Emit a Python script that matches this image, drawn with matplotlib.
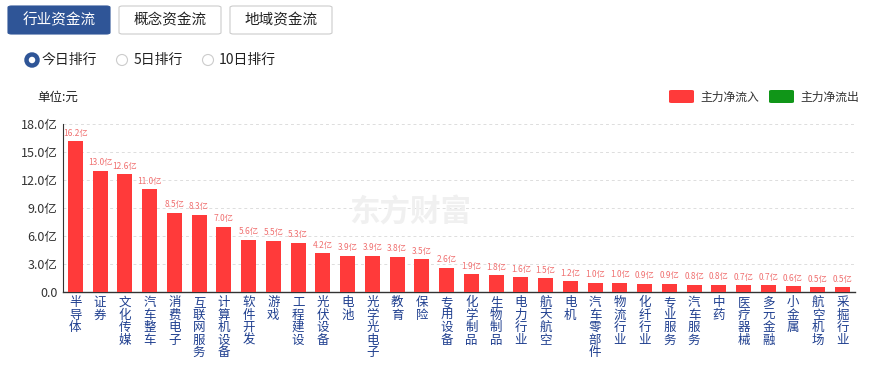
import matplotlib
matplotlib.use("Agg")
import matplotlib.pyplot as plt
from matplotlib.patches import FancyBboxPatch, Circle, Rectangle
import numpy as np

plt.rcParams['font.family'] = ['Noto Sans CJK SC', 'DejaVu Sans']

categories = ["半导体", "证券", "文化传媒", "汽车整车", "消费电子", "互联网服务", "计算机设备",
              "软件开发", "游戏", "工程建设", "光伏设备", "电池", "光学光电子", "教育", "保险",
              "专用设备", "化学制品", "生物制品", "电力行业", "航天航空", "电机", "汽车零部件",
              "物流行业", "化纤行业", "专业服务", "汽车服务", "中药", "医疗器械", "多元金融",
              "小金属", "航空机场", "采掘行业"]
values = [16.2, 13.0, 12.6, 11.0, 8.5, 8.3, 7.0, 5.6, 5.5, 5.3, 4.2, 3.9, 3.9, 3.8, 3.5,
          2.6, 1.9, 1.8, 1.6, 1.5, 1.2, 1.0, 1.0, 0.9, 0.9, 0.8, 0.8, 0.7, 0.7, 0.6, 0.5, 0.5]
yticks = [0, 3, 6, 9, 12, 15, 18]
ytick_labels = ["0.0", "3.0亿", "6.0亿", "9.0亿", "12.0亿", "15.0亿", "18.0亿"]

W, H = 887, 367
fig = plt.figure(figsize=(W / 100, H / 100), dpi=100)

def fx(px):
    return px / W

def fy(py):
    return 1 - py / H

ax = fig.add_axes([fx(63), fy(292), fx(855) - fx(63), fy(124) - fy(292)])
x = np.arange(len(categories))
ax.bar(x, values, width=0.6, color="#ff3a3a", zorder=3)
for xi, v in zip(x, values):
    ax.text(xi, v + 0.35, f"{v:.1f}亿", ha="center", va="bottom", fontsize=6,
            color="#f07070", zorder=4)
ax.set_xlim(-0.5, len(categories) - 0.5)
ax.set_ylim(0, 18)
ax.set_yticks(yticks)
ax.set_yticklabels(ytick_labels, fontsize=9, color="#333333")
ax.set_xticks(x)
ax.set_xticklabels(["\n".join(c) for c in categories], fontsize=9, color="#1f3f8f",
                   linespacing=0.95, va="top")
ax.tick_params(axis="both", length=0)
ax.tick_params(axis="x", pad=3)
ax.tick_params(axis="y", pad=4)
for s in ["top", "right"]:
    ax.spines[s].set_visible(False)
ax.spines["left"].set_color("#333333")
ax.spines["bottom"].set_color("#333333")
ax.spines["left"].set_linewidth(0.8)
ax.spines["bottom"].set_linewidth(1.0)
for t in yticks[1:]:
    ax.axhline(t, color="#dddddd", linestyle=(0, (3, 3)), linewidth=0.7, zorder=1)

# watermark
fig.text(fx(410), fy(212), "东方财富", fontsize=22, color="#f0f0f0", ha="center",
         va="center", fontweight="bold", zorder=0)

# top buttons
def button(x0, x1, y0, y1, label, filled):
    p = FancyBboxPatch((fx(x0), fy(y1)), fx(x1) - fx(x0), fy(y0) - fy(y1),
                       boxstyle="round,pad=0,rounding_size=0.004",
                       transform=fig.transFigure,
                       facecolor="#2f5597" if filled else "white",
                       edgecolor="#2f5597" if filled else "#cccccc", linewidth=0.8)
    fig.patches.append(p)
    fig.text(fx((x0 + x1) / 2), fy((y0 + y1) / 2), label, ha="center", va="center",
             fontsize=10.5, color="white" if filled else "#222222")

button(8, 110, 6, 34, "行业资金流", True)
button(119, 221, 6, 34, "概念资金流", False)
button(230, 332, 6, 34, "地域资金流", False)

# radio buttons
fig.patches.append(Circle((32, H - 60), 5.5, transform=None, facecolor="white",
                          edgecolor="#2f5597", linewidth=3.2))
fig.patches.append(Circle((122, H - 60), 5.5, transform=None, facecolor="white",
                          edgecolor="#cccccc", linewidth=0.8))
fig.patches.append(Circle((208, H - 60), 5.5, transform=None, facecolor="white",
                          edgecolor="#cccccc", linewidth=0.8))
fig.text(fx(42), fy(60), "今日排行", ha="left", va="center", fontsize=10, color="#222222")
fig.text(fx(134), fy(60), "5日排行", ha="left", va="center", fontsize=10, color="#222222")
fig.text(fx(219), fy(60), "10日排行", ha="left", va="center", fontsize=10, color="#222222")

# unit
fig.text(fx(37), fy(97), "单位:元", ha="left", va="center", fontsize=9, color="#222222")

# legend
for x0, col, lab in [(669, "#ff3a3a", "主力净流入"), (769, "#109618", "主力净流出")]:
    p = FancyBboxPatch((fx(x0), fy(103)), fx(x0 + 25) - fx(x0), fy(90) - fy(103),
                       boxstyle="round,pad=0,rounding_size=0.003",
                       transform=fig.transFigure, facecolor=col, edgecolor="none")
    fig.patches.append(p)
    fig.text(fx(x0 + 31), fy(97), lab, ha="left", va="center", fontsize=8.5, color="#333333")

fig.savefig("out.png", dpi=100)
